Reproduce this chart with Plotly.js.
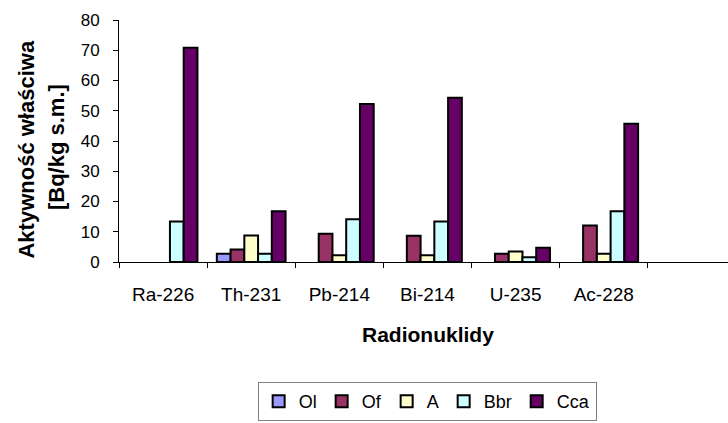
<!DOCTYPE html>
<html>
<head>
<meta charset="utf-8">
<script src="https://cdn.plot.ly/plotly-3.0.1.min.js"></script>
<style>html,body{margin:0;padding:0;background:#fff;}#chart{width:728px;height:423px;}</style>
</head>
<body>
<div id="chart"></div>
<script>
// Data
var categories = ["Ra-226", "Th-231", "Pb-214", "Bi-214", "U-235", "Ac-228"];
var categorySlots = ["Ra-226", "Th-231", "Pb-214", "Bi-214", "U-235", "Ac-228", " "];
var seriesNames = ["Ol", "Of", "A", "Bbr", "Cca"];
var valuesOl  = [null, 2.7, null, null, null, null];
var valuesOf  = [null, 4.1, 9.3, 8.7, 2.7, 12.1];
var valuesA   = [null, 8.8, 2.2, 2.2, 3.5, 2.7];
var valuesBbr = [13.4, 2.7, 14.1, 13.4, 1.6, 16.8];
var valuesCca = [70.8, 16.8, 52.2, 54.3, 4.7, 45.7];
var yTicks = [0, 10, 20, 30, 40, 50, 60, 70, 80];
var yTitleLines = ["Aktywność właściwa", "[Bq/kg s.m.]"];
var xTitle = "Radionuklidy";

var seriesValues = [valuesOl, valuesOf, valuesA, valuesBbr, valuesCca];
var seriesColors = ["#9999FF", "#993366", "#FFFFCC", "#CCFFFF", "#660066"];

var FONT = "Arial, 'Liberation Sans', sans-serif";

var traces = seriesNames.map(function (name, i) {
  return {
    type: "bar",
    name: name,
    x: categories,
    y: seriesValues[i],
    marker: { color: seriesColors[i], line: { color: "#000000", width: 2 } },
    hoverinfo: "x+y+name"
  };
});

var layout = {
  width: 728,
  height: 423,
  margin: { l: 119, r: 0, t: 20, b: 161, pad: 0 },
  paper_bgcolor: "#ffffff",
  plot_bgcolor: "#ffffff",
  barmode: "group",
  bargap: 0.22,
  bargroupgap: 0,
  font: { family: FONT, color: "#000000" },
  showlegend: true,
  xaxis: {
    type: "category",
    categoryorder: "array",
    categoryarray: categorySlots,
    range: [-0.5, 6.41],
    showline: true,
    linecolor: "#000000",
    linewidth: 1,
    ticks: "outside",
    tickson: "boundaries",
    ticklen: 5,
    tickcolor: "#000000",
    tickwidth: 1,
    showgrid: false,
    zeroline: false,
    tickfont: { family: FONT, size: 19, color: "#000000" },
    ticklabelstandoff: 15,
    fixedrange: true
  },
  yaxis: {
    range: [0, 80],
    tickvals: yTicks,
    ticktext: yTicks.map(String),
    showline: true,
    linecolor: "#000000",
    linewidth: 1,
    ticks: "outside",
    ticklen: 5,
    tickcolor: "#000000",
    tickwidth: 1,
    showgrid: false,
    zeroline: false,
    tickfont: { family: FONT, size: 17, color: "#000000" },
    ticklabelstandoff: 10,
    fixedrange: true
  },
  legend: {
    orientation: "h",
    x: 0.506,
    xanchor: "center",
    y: -0.496,
    yanchor: "top",
    bordercolor: "#808080",
    borderwidth: 1,
    bgcolor: "#ffffff",
    font: { family: FONT, size: 18, color: "#000000" },
    itemwidth: 30,
    traceorder: "normal"
  },
  annotations: [
    {
      text: "<b>" + yTitleLines[0] + "</b>",
      textangle: -90,
      xref: "paper", yref: "paper",
      x: -0.1535, y: 0.4628,
      xanchor: "center", yanchor: "middle",
      showarrow: false,
      font: { family: FONT, size: 22, color: "#000000" }
    },
    {
      text: "<b>" + yTitleLines[1] + "</b>",
      textangle: -90,
      xref: "paper", yref: "paper",
      x: -0.1034, y: 0.4752,
      xanchor: "center", yanchor: "middle",
      showarrow: false,
      font: { family: FONT, size: 22, color: "#000000" }
    },
    {
      text: "<b>" + xTitle + "</b>",
      xref: "paper", yref: "paper",
      x: 0.5066, y: -0.2996,
      xanchor: "center", yanchor: "middle",
      showarrow: false,
      font: { family: FONT, size: 21, color: "#000000" }
    }
  ]
};

Plotly.newPlot("chart", traces, layout, { displayModeBar: false });
</script>
</body>
</html>
